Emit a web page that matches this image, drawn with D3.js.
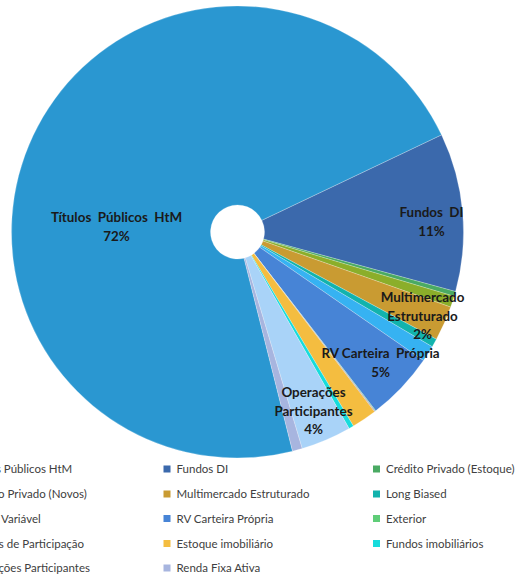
<!DOCTYPE html>
<html><head><meta charset="utf-8">
<script src="https://cdn.jsdelivr.net/npm/d3@7"></script>
<style>
html,body{margin:0;padding:0;background:#fff;overflow:hidden;}
svg{display:block;}
</style></head>
<body>
<svg id="chart" width="526" height="576"></svg>
<script>
const categories = [
  "Títulos Públicos HtM", "Fundos DI", "Crédito Privado (Estoque)",
  "Crédito Privado (Novos)", "Multimercado Estruturado", "Long Biased",
  "Renda Variável", "RV Carteira Própria", "Exterior",
  "Fundos de Participação", "Estoque imobiliário", "Fundos imobiliários",
  "Operações Participantes", "Renda Fixa Ativa"
];
const values = [71.8, 11.3, 0.35, 0.8, 2.48, 0.6, 1.15, 4.9, 0.05, 0.05, 1.8, 0.35, 3.6, 0.7];
const colors = ["#2a97d1", "#3b69ac", "#4aaa63", "#8bae2a", "#c99b32", "#12b3ad",
  "#36b2f2", "#4784d6", "#5fcd78", "#9b6fc4", "#f4bd40", "#17dcdc", "#a9d3f8", "#a7b5df"];
// labelled slices: index, text lines, and label offset from centre
const labelLines = {0: ["Títulos  Públicos  HtM"], 1: ["Fundos  DI"], 4: ["Multimercado", "Estruturado"],
  7: ["RV Carteira  Própria"], 12: ["Operações", "Participantes"]};
const labelOffsets = {0: [-121, -5], 1: [194, -10], 4: [185, 84], 7: [143, 131], 12: [76, 179]};

const svg = d3.select("#chart");
const cx = 237.5, cy = 232, R = 226, r0 = 27;
const startDeg = 165.9;
const pie = d3.pie().sort(null).value(d => d)
  .startAngle(startDeg * Math.PI / 180).endAngle(startDeg * Math.PI / 180 + 2 * Math.PI);
const arcs = pie(values);
const arc = d3.arc().innerRadius(r0).outerRadius(R);
const g = svg.append("g").attr("transform", `translate(${cx},${cy})`);
g.selectAll("path.slice").data(arcs).join("path")
  .attr("class", "slice")
  .attr("d", arc)
  .attr("fill", (d, i) => colors[i])
  .attr("stroke", "#ffffff").attr("stroke-width", 0.4).attr("stroke-opacity", 0.6);

const total = d3.sum(values);
const fmt = v => Math.round(v / total * 100) + "%";
Object.keys(labelLines).forEach(k => {
  const i = +k;
  const lines = labelLines[i].concat([fmt(values[i])]);
  const [ox, oy] = labelOffsets[i];
  const lh = 18.5;
  const t = g.append("text")
    .attr("text-anchor", "middle")
    .attr("font-family", "Lato, 'Open Sans', sans-serif")
    .attr("font-weight", "bold").attr("font-size", 13.4)
    .attr("fill", "#1a1a1a");
  lines.forEach((ln, j) => {
    t.append("tspan").attr("x", ox)
      .attr("y", oy + (j - (lines.length - 1) / 2) * lh)
      .attr("dy", "0.35em")
      .style("white-space", "pre")
      .text(ln);
  });
});

// legend
const colX = [-46, 163.5, 373], rowY = [469, 494, 518.5, 543.5, 568];
const lg = svg.append("g");
categories.forEach((c, i) => {
  const col = i % 3, row = Math.floor(i / 3);
  const x = colX[col], y = rowY[row];
  lg.append("rect").attr("x", x).attr("y", y - 3.5).attr("width", 7).attr("height", 7).attr("fill", colors[i]);
  lg.append("text").attr("x", x + 13).attr("y", y).attr("dy", "0.35em")
    .attr("font-family", "Lato, 'Open Sans', sans-serif").attr("font-size", 11.5)
    .attr("fill", "#404040").text(c);
});
</script>
</body></html>
